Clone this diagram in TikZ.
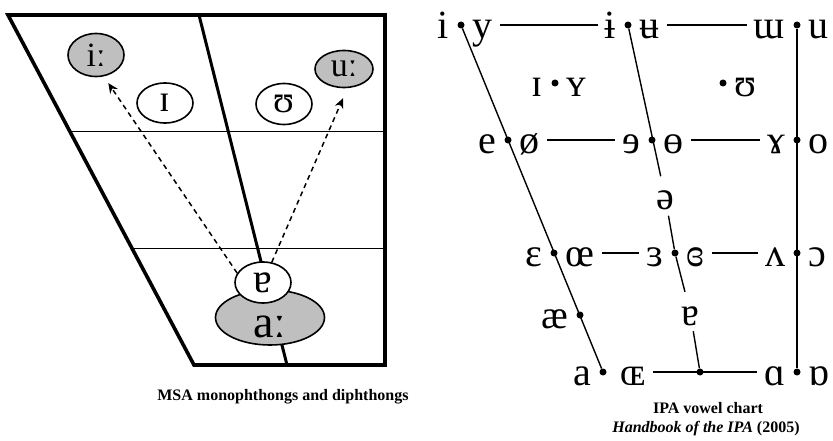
\documentclass[tikz,border=0pt]{standalone}
\usepackage{fontspec}
\setmainfont{Liberation Serif}
\usepackage{tikz}
\usetikzlibrary{shapes.geometric, arrows.meta, positioning, backgrounds, calc}

\begin{document}
\begin{tikzpicture}[
    x=1pt, y=-1pt,
    node distance = 6pt,
    frame/.style   = {line width=3.6pt, line join=miter},
    grid/.style    = {line width=1.2pt},
    shortv/.style  = {draw, ellipse, line width=1.6pt, inner sep=0pt, fill=white},
    longv/.style   = {shortv, fill=black!25},
    dasharr/.style = {-{Stealth[length=10pt, width=9pt]}, line width=1.5pt,
                      dash pattern=on 5pt off 4pt},
    vow/.style     = {inner sep=2pt, text height=31pt, text depth=4pt,
                      font=\fontsize{40}{42}\selectfont},
    dot/.style     = {circle, fill, inner sep=0pt, minimum size=7pt},
    slant/.style   = {line width=1.4pt},
    hline/.style   = {line width=1.3pt, shorten <=5pt, shorten >=5pt},
    caption/.style = {font=\fontsize{16}{18}\selectfont\bfseries},
]
\useasboundingbox (0,0) rectangle (833,441);

%% ── MSA chart: corners ──────────────────────────────────────────────────────
\coordinate (tl) at (8,15);
\coordinate (tr) at (385,15);
\coordinate (br) at (385,365);
\coordinate (bl) at (194,365);
\coordinate (mt) at (199,15);
\coordinate (mb) at (287,365);

%% ── MSA chart: vowels ───────────────────────────────────────────────────────
\node[longv, minimum width=56pt, minimum height=43pt,
      font=\fontsize{34}{36}\selectfont]  (iL)    at (96,55)   {iː};
\node[shortv, minimum width=56pt, minimum height=40pt,
      font=\fontsize{38}{40}\selectfont]  (IL)    at (165,103) {ɪ};
\node[shortv, minimum width=56pt, minimum height=41pt,
      font=\fontsize{38}{40}\selectfont]  (UL)    at (284,104) {ʊ};
\node[longv, minimum width=58pt, minimum height=37pt,
      font=\fontsize{34}{36}\selectfont]  (uL)    at (344,69)  {uː};
\node[longv, minimum width=109pt, minimum height=55pt,
      font=\fontsize{46}{48}\selectfont]  (aL)    at (270,317.5)
                                          {\raisebox{-20pt}[0pt][0pt]{aː}};
\node[shortv, minimum width=56pt, minimum height=41pt,
      font=\fontsize{42}{44}\selectfont]  (schwa) at (263,282.5) {ɐ};

%% ── MSA chart: frame and grid (behind the vowels) ──────────────────────────
\begin{scope}[on background layer]
\draw[frame] (tl) -- (tr) -- (br) -- (bl) -- cycle;
\draw[frame, line width=3pt] (mt) -- (mb);
\draw[grid] ($(tl)!1/3!(bl)$) -- ($(tr)!1/3!(br)$);
\draw[grid] ($(tl)!2/3!(bl)$) -- ($(tr)!2/3!(br)$);
\end{scope}

%% ── MSA chart: diphthong arrows ─────────────────────────────────────────────
\draw[dasharr, shorten >=8pt]  (schwa.160) -- (iL.-70);
\draw[dasharr, shorten >=11pt] (schwa)     -- (uL.-80);

\node[caption] (capL) at (283,397) {MSA monophthongs and diphthongs};

%% ── IPA chart: dots ─────────────────────────────────────────────────────────
\node[dot] (f1) at (461,25)  {};
\node[dot] (f2) at (508,140) {};
\node[dot] (f3) at (554,253) {};
\node[dot] (f4) at (580,315) {};
\node[dot] (f5) at (603,372) {};
\node[dot] (c1) at (628,25)  {};
\node[dot] (c2) at (652,140) {};
\node[dot] (c3) at (675,253) {};
\node[dot] (c5) at (700,372) {};
\node[dot] (b1) at (797,25)  {};
\node[dot] (b2) at (797,140) {};
\node[dot] (b3) at (797,253) {};
\node[dot] (b5) at (797,372) {};
\node[dot] (nf) at (555,83)  {};
\node[dot] (nb) at (723,83)  {};

%% ── IPA chart: symbols ──────────────────────────────────────────────────────
\node[vow, left=of f1]        (i)      {i};
\node[vow, right=of f1]       (y)      {y};
\node[vow, left=of c1]        (ibar)   {ɨ};
\node[vow, right=of c1]       (ubar)   {ʉ};
\node[vow, left=of b1]        (mturn)  {ɯ};
\node[vow, right=of b1]       (u)      {u};
\node[vow, left=of nf]        (Ism)    {ɪ};
\node[vow, right=of nf]       (Ysm)    {ʏ};
\node[vow, right=of nb]       (Usm)    {ʊ};
\node[vow, left=of f2]        (e)      {e};
\node[vow, right=of f2]       (oslash) {ø};
\node[vow, left=of c2]        (erev)   {ɘ};
\node[vow, right=of c2]       (obar)   {ɵ};
\node[vow, left=of b2]        (rams)   {ɤ};
\node[vow, right=of b2]       (o)      {o};
\node[vow, left=of f3]        (eps)    {ɛ};
\node[vow, right=of f3]       (oe)     {œ};
\node[vow, left=of c3]        (epsrev) {ɜ};
\node[vow, right=of c3]       (epscl)  {ɞ};
\node[vow, left=of b3]        (wedge)  {ʌ};
\node[vow, right=of b3]       (oopen)  {ɔ};
\node[vow, left=of f4]        (ae)     {æ};
\node[vow, left=of f5]        (a)      {a};
\node[vow, right=12pt of f5]  (OEsm)   {ɶ};
\node[vow, left=of b5]        (alpha)  {ɑ};
\node[vow, right=of b5]       (alturn) {ɒ};
\node[vow] (schwaR) at (665,196)   {ə};
\node[vow] (turnaR) at (690,311.5) {ɐ};

%% ── IPA chart: lines ────────────────────────────────────────────────────────
\draw[slant] (f1) -- (f5);
\draw[slant] (c1) -- (schwaR) -- (c3) -- (turnaR) -- (c5);
\draw[line width=2.6pt] (b1) -- (b5);
\draw[hline] (y)      -- (ibar);
\draw[hline] (ubar)   -- (mturn);
\draw[hline] (oslash) -- (erev);
\draw[hline] (obar)   -- (rams);
\draw[hline] (oe)     -- (epsrev);
\draw[hline] (epscl)  -- (wedge);
\draw[hline] (OEsm)   -- (alpha);

\node[caption] (capR1) at (708,408) {IPA vowel chart};
\node[caption] (capR2) at (706,429) {\textit{Handbook of the IPA} (2005)};

\end{tikzpicture}
\end{document}
